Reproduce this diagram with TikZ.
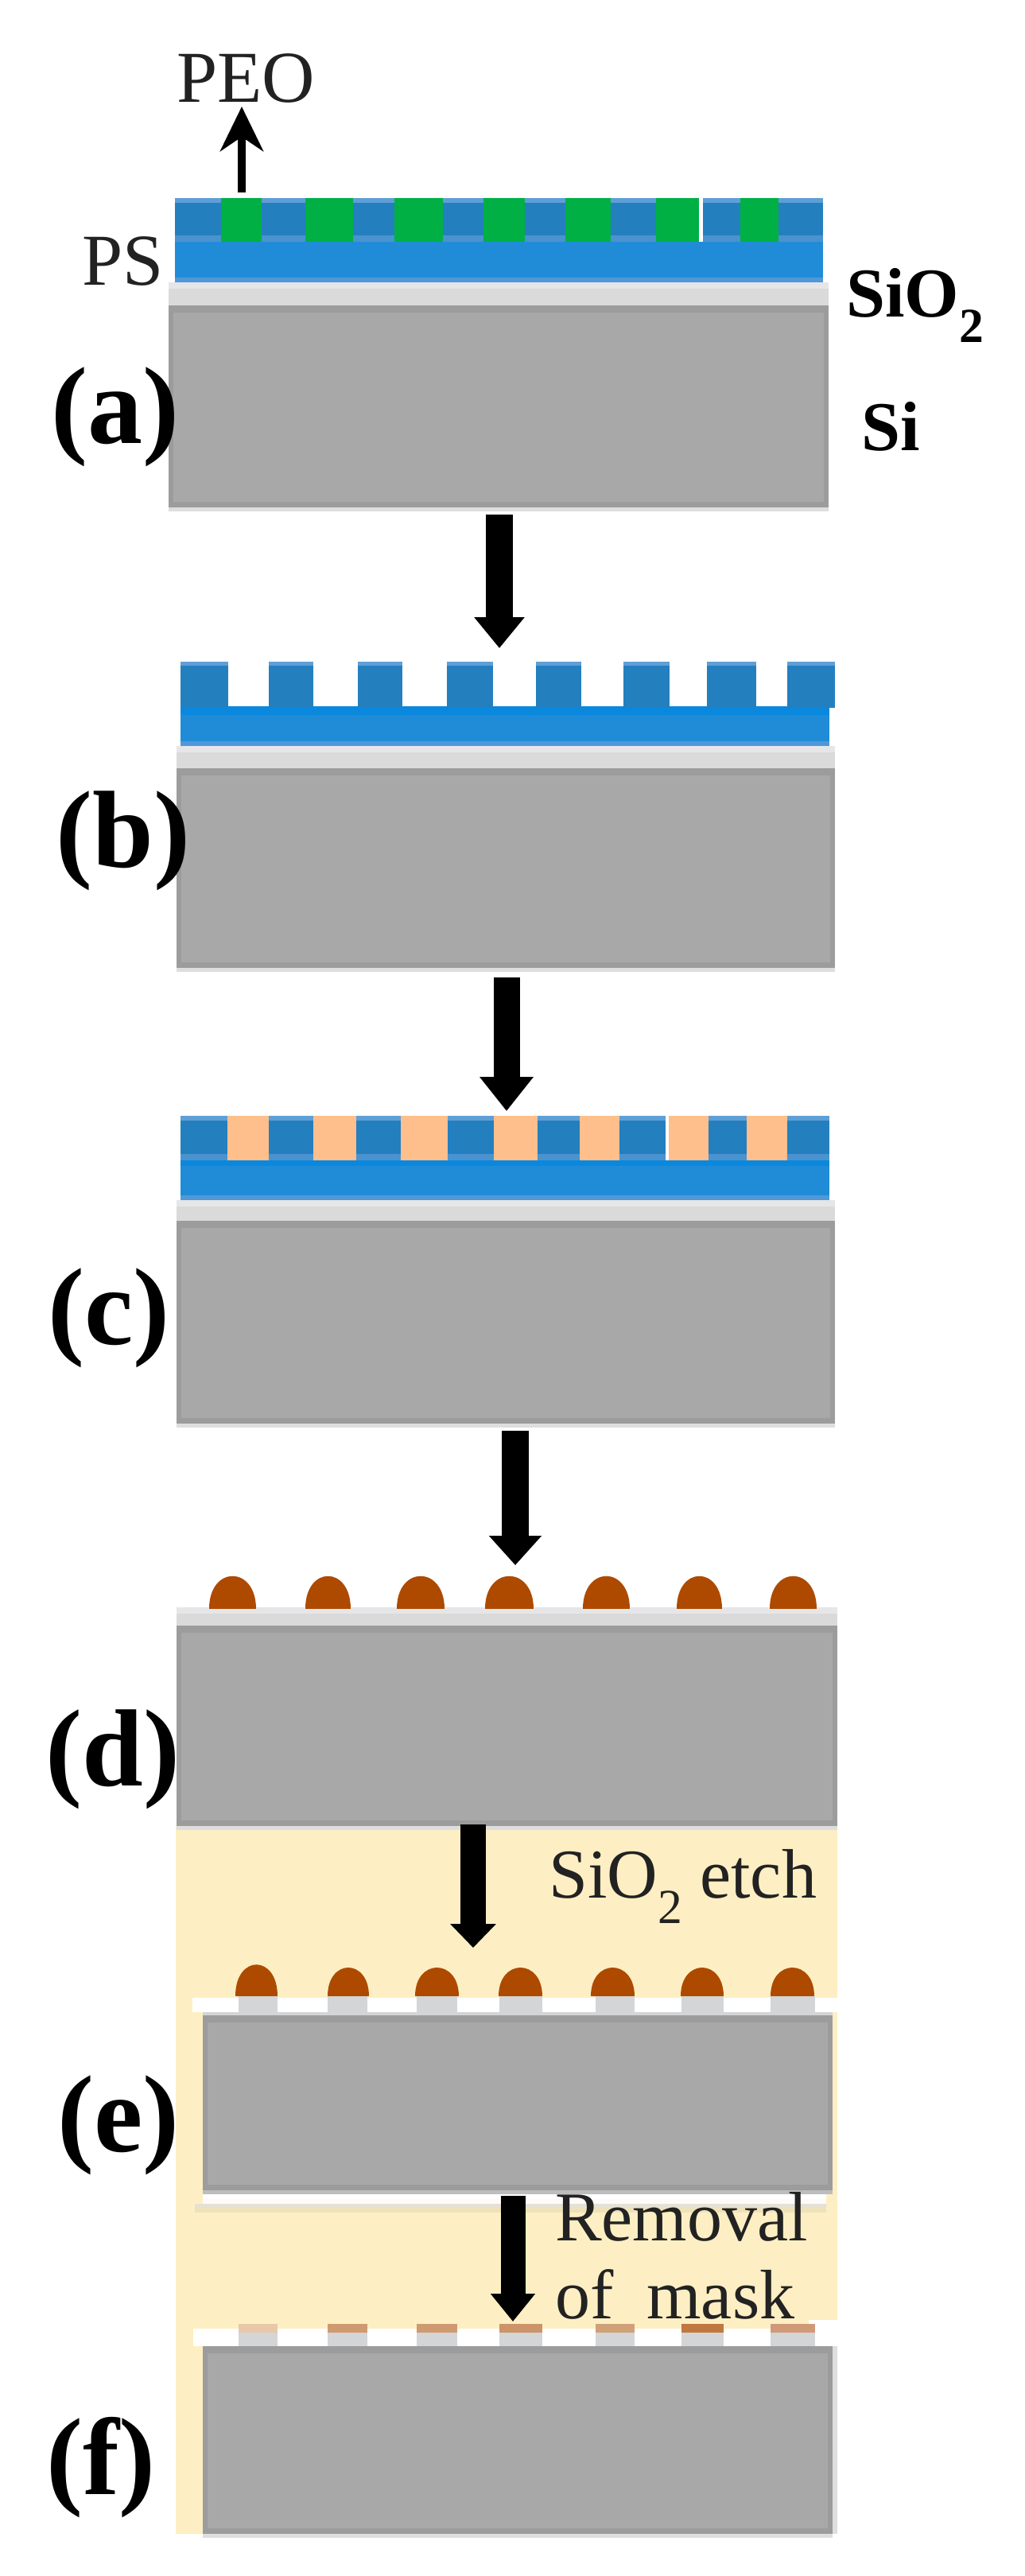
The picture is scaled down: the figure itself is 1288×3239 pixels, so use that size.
\documentclass[tikz,border=0pt]{standalone}
\usepackage{fontspec}
\setmainfont{Liberation Serif}
\usetikzlibrary{arrows.meta}
\definecolor{siC}{HTML}{A8A8A8}
\definecolor{siR}{HTML}{9C9C9C}
\definecolor{rimL}{HTML}{DEDEDE}
\definecolor{oxC}{HTML}{DADADA}
\definecolor{oxT}{HTML}{E6E6E8}
\definecolor{toothC}{HTML}{247FBF}
\definecolor{toothT}{HTML}{5F9FD6}
\definecolor{toothB}{HTML}{4A93CF}
\definecolor{baseC}{HTML}{208CD8}
\definecolor{baseB}{HTML}{0A88DE}
\definecolor{baseR}{HTML}{5098D8}
\definecolor{greenC}{HTML}{00B044}
\definecolor{orangeC}{HTML}{FFBF8C}
\definecolor{dropC}{HTML}{AE4A00}
\definecolor{yellC}{HTML}{FDEFC3}
\definecolor{yellE}{HTML}{D8CBAA}
\definecolor{pillC}{HTML}{D3D5D7}
\definecolor{txtC}{HTML}{222222}
\tikzset{
  lab/.style={inner sep=0pt,anchor=base,font=\fontsize{138}{140}\selectfont\bfseries,text=black},
  mat/.style={inner sep=0pt,anchor=base west,font=\fontsize{88}{90}\selectfont\bfseries,text=black},
  note/.style={inner sep=0pt,anchor=base west,font=\fontsize{#1}{#1}\selectfont,text=txtC},
  bigarrow/.style n args={3}{draw=black,line width=#1pt,-{Triangle[width=#2pt,length=#3pt]}},
  thinarrow/.style={draw=black,line width=10pt,-{Stealth[width=54pt,length=56pt,inset=18pt]}}
}
% x1 y1 x2 y2 colour
\newcommand{\bx}[5]{\fill[#5] (#1,#2) rectangle (#3,#4);}
% silicon block: x1 y1 x2 y2
\newcommand{\siblock}[4]{%
  \fill[rimL] (#1,#4-2) rectangle (#3,#4+5);
  \fill[siR] (#1,#2) rectangle (#3,#4);
  \fill[siC] (#1+6,#2+9) rectangle (#3-6,#4-7);}
% oxide: x1 y1 x2 y2
\newcommand{\oxlayer}[4]{%
  \fill[oxC] (#1,#2) rectangle (#3,#4);
  \fill[oxT] (#1,#2) rectangle (#3,#2+8);}
% resist base: x1 y1 x2 y2
\newcommand{\baselayer}[4]{%
  \fill[baseC] (#1,#2) rectangle (#3,#4);
  \fill[baseR] (#1,#4-6) rectangle (#3,#4);}
% tooth band: x1 y1 x2 y2
\newcommand{\band}[4]{%
  \fill[toothC] (#1,#2) rectangle (#3,#4);
  \fill[toothT] (#1,#2) rectangle (#3,#2+6);
  \fill[toothB] (#1,#4-8) rectangle (#3,#4);}
% droplet: x1 x2 bottom height
\newcommand{\drop}[4]{\fill[dropC] (#1,#3) .. controls (#1,{#3-#4*1.333}) and (#2,{#3-#4*1.333}) .. (#2,#3) -- cycle;}
\begin{document}
\begin{tikzpicture}[x=1pt,y=-1pt]
\useasboundingbox (0,0) rectangle (1288,3239);
\fill[white] (0,0) rectangle (1288,3239);
% ---------- named arrow ends
\coordinate (peoS) at (304,242); \coordinate (peoE) at (304,134);
\coordinate (abS) at (628,647);  \coordinate (abE) at (628,815);
\coordinate (bcS) at (637,1229); \coordinate (bcE) at (637,1397);
\coordinate (cdS) at (648,1799); \coordinate (cdE) at (648,1968);
\coordinate (deS) at (595,2294); \coordinate (deE) at (595,2449);
\coordinate (efS) at (645,2761); \coordinate (efE) at (645,2919);
% ---------- yellow background
\bx{221}{2295}{1053}{2917}{yellC}
\bx{221}{2917}{1017}{2928}{yellC}
\bx{221}{2917}{255}{3186}{yellC}
% ---------- panel a
\band{220}{249}{1035}{304}
\baselayer{220}{304}{1035}{355}
\oxlayer{212}{355}{1042}{384}
\siblock{212}{384}{1042}{638}
\foreach \a/\b in {278/329,384/444,496/557,608/660,711/768,825/879,931/979}{\bx{\a}{249}{\b}{304}{greenC}}
\bx{879}{249}{884}{304}{white}
% ---------- panel b
\baselayer{227}{888}{1043}{938}
\fill[baseB] (227,888) rectangle (1043,899);
\foreach \a/\b in {227/287,338/394,450/506,562/620,674/731,784/842,889/951,990/1050}{%
  \bx{\a}{832}{\b}{890}{toothC}
  \bx{\a}{832}{\b}{837}{toothT}}
\oxlayer{222}{938}{1050}{966}
\siblock{222}{966}{1050}{1217}
% ---------- panel c
\band{227}{1403}{1043}{1459}
\baselayer{227}{1459}{1043}{1509}
\fill[baseB] (227,1459) rectangle (1043,1466);
\oxlayer{222}{1509}{1050}{1535}
\siblock{222}{1535}{1050}{1790}
\foreach \a/\b in {286/338,394/448,504/563,621/676,729/779,841/891,939/990}{\bx{\a}{1403}{\b}{1459}{orangeC}}
\bx{837}{1403}{841}{1459}{white}
% ---------- panel d
\oxlayer{222}{2021}{1053}{2044}
\siblock{222}{2044}{1053}{2296}
\foreach \a/\b in {263/322,384/441,499/559,610/671,733/792,851/908,968/1027}{\drop{\a}{\b}{2023}{41}}
% ---------- panel e
\bx{242}{2512}{1053}{2530}{white}
\foreach \a/\b in {300/349,412/462,524/575,628/682,749/798,857/910,969/1025}{\bx{\a}{2510}{\b}{2530}{pillC}}
\drop{296}{349}{2510}{40}
\foreach \a/\b in {412/464,522/577,627/682,743/798,856/910,969/1024}{\drop{\a}{\b}{2510}{36}}
\bx{255}{2530}{1047}{2535}{pillC}
\siblock{255}{2534}{1047}{2754}
\bx{255}{2754}{1047}{2759}{black!26}
\bx{255}{2759}{1039}{2765}{white}
\bx{255}{2765}{1039}{2771}{white!92!pink}
\bx{245}{2771}{1039}{2776}{yellC!60!gray!50!white}
\bx{245}{2776}{1039}{2782}{yellC!88!gray}
% ---------- panel f
\bx{243}{2928}{1053}{2950}{white}
\bx{1017}{2917}{1053}{2928}{white}
\foreach \a/\b/\c in {300/349/E8C8A8,412/462/CF9A70,524/575/CF9A70,628/682/CC9468,749/798/D0A078,857/910/C07840,969/1025/D09A78}{%
  \definecolor{rem}{HTML}{\c}
  \bx{\a}{2922}{\b}{2933}{rem}
  \bx{\a}{2933}{\b}{2950}{pillC}}
\bx{1047}{2950}{1053}{3186}{rimL}
\siblock{255}{2950}{1047}{3186}
% ---------- arrows
\draw[thinarrow] (peoS) -- (peoE);
\draw[bigarrow={34}{61}{39}] (abS) -- (abE);
\draw[bigarrow={33}{65}{43}] (bcS) -- (bcE);
\draw[bigarrow={34}{64}{37}] (cdS) -- (cdE);
\draw[bigarrow={32}{56}{30}] (deS) -- (deE);
\draw[bigarrow={31}{54}{35}] (efS) -- (efE);
% ---------- labels
\node[note=92] (peo) at (222,128) {PEO};
\node[note=92] (ps) at (103,358) {PS};
\node[mat] (sio) at (1064,398) {SiO\textsubscript{2}};
\node[mat] (si) at (1083,566) {Si};
\node[lab] (la) at (145,557) {(a)};
\node[lab] (lb) at (155,1090) {(b)};
\node[lab] (lc) at (137,1690) {(c)};
\node[lab] (ld) at (142,2245) {(d)};
\node[lab] (le) at (149,2705) {(e)};
\node[lab] (lf) at (127,3136) {(f)};
\node[note=88] (etch) at (690,2386) {SiO\textsubscript{2} etch};
\node[note=88] (rem1) at (698,2817) {Removal};
\node[note=88] (rem2) at (698,2915) {of\hspace{20pt} mask};
\end{tikzpicture}
\end{document}
